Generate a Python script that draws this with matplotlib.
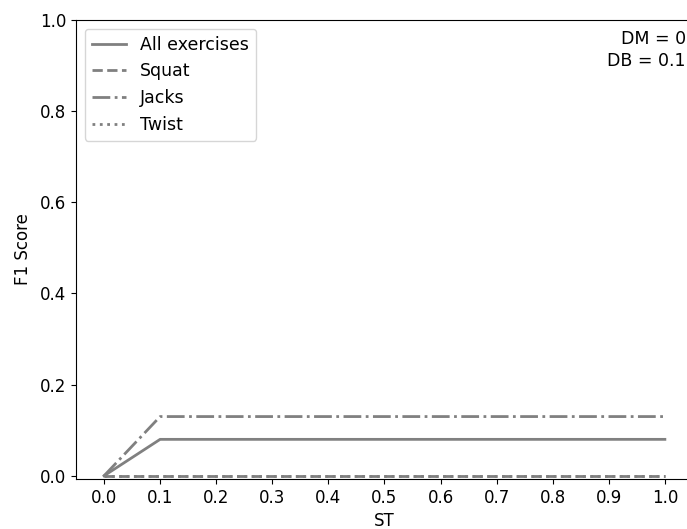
import numpy as np
from matplotlib import pyplot as plt

st = [0.0, 0.1, 0.2, 0.3, 0.4, 0.5, 0.6, 0.7, 0.8, 0.9, 1.0]
f1_all = [0.0, 0.08, 0.08, 0.08, 0.08, 0.08, 0.08, 0.08, 0.08, 0.08, 0.08]
f1_squat = [0.0, 0.0, 0.0, 0.0, 0.0, 0.0, 0.0, 0.0, 0.0, 0.0, 0.0]
f1_jacks = [0.0, 0.13, 0.13, 0.13, 0.13, 0.13, 0.13, 0.13, 0.13, 0.13, 0.13]
f1_twist = [0.0, 0.0, 0.0, 0.0, 0.0, 0.0, 0.0, 0.0, 0.0, 0.0, 0.0]

plt.rcParams['font.size'] = 12

fig = plt.figure(figsize=(6.87, 5.29), dpi=100)
ax = fig.add_axes([0.1106, 0.0945, 0.898, 0.8677])

c = "grey"
ax.plot(st, f1_all, "-", color=c, lw=2, label="All exercises")
ax.plot(st, f1_squat, "--", color=c, lw=2, label="Squat")
ax.plot(st, f1_jacks, "-.", color=c, lw=2, label="Jacks")
ax.plot(st, f1_twist, ":", color=c, lw=2, label="Twist")

ax.set_xlim(-0.05, 1.05)
ax.set_ylim(-0.007, 1.0)
ax.set_xticks(np.arange(0, 1.01, 0.1))
ax.spines["right"].set_visible(False)
ax.set_xlabel("ST", labelpad=4)
ax.set_ylabel("F1 Score", labelpad=6)
ax.legend(loc="upper left", fontsize=12.5)
fig.text(0.9985, 0.943, "DM = 0\nDB = 0.1", ha="right", va="top",
         fontsize=12.5, linespacing=1.3)

plt.savefig("out.png", dpi=100)
